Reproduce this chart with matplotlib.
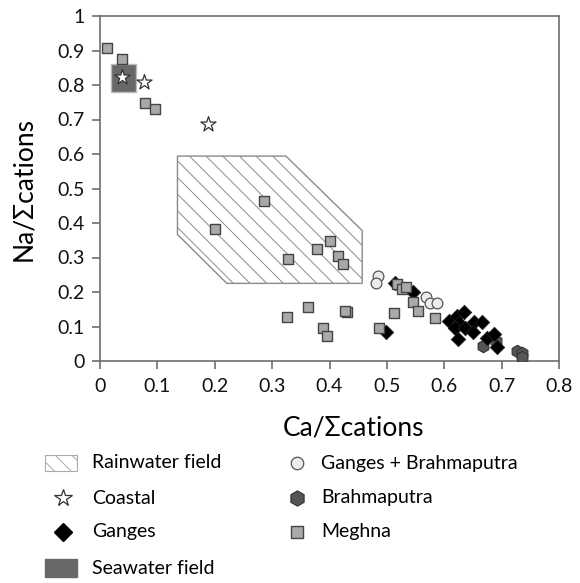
import matplotlib
matplotlib.use("Agg")
import matplotlib.pyplot as plt
from matplotlib.patches import Polygon, Rectangle
from matplotlib.lines import Line2D

plt.rcParams['font.family'] = ['Lato', 'DejaVu Sans']
plt.rcParams['hatch.linewidth'] = 0.7
plt.rcParams['hatch.color'] = '#a0a0a0'

# Ca/Σcations, Na/Σcations per sample group
meghna_ca = [0.013, 0.039, 0.079, 0.096, 0.286, 0.200, 0.328, 0.379, 0.400, 0.414, 0.423,
             0.326, 0.363, 0.430, 0.427, 0.389, 0.395, 0.486, 0.513, 0.517, 0.527, 0.533,
             0.546, 0.555, 0.584]
meghna_na = [0.906, 0.874, 0.747, 0.730, 0.464, 0.382, 0.296, 0.325, 0.349, 0.304, 0.280,
             0.127, 0.156, 0.141, 0.146, 0.095, 0.073, 0.095, 0.140, 0.224, 0.208, 0.214,
             0.172, 0.146, 0.124]

ganges_ca = [0.514, 0.546, 0.498, 0.608, 0.623, 0.634, 0.626, 0.619, 0.637, 0.651, 0.665,
             0.650, 0.624, 0.674, 0.686, 0.692]
ganges_na = [0.226, 0.201, 0.085, 0.116, 0.130, 0.143, 0.109, 0.097, 0.095, 0.114, 0.112,
             0.083, 0.064, 0.068, 0.077, 0.041]

brahma_ca = [0.667, 0.690, 0.726, 0.735, 0.736]
brahma_na = [0.043, 0.058, 0.030, 0.022, 0.013]

gb_ca = [0.485, 0.481, 0.569, 0.576, 0.588]
gb_na = [0.247, 0.225, 0.186, 0.167, 0.167]

coastal_ca = [0.038, 0.077, 0.188]
coastal_na = [0.824, 0.810, 0.687]

# outline of the rainwater field
rain_ca = [0.135, 0.324, 0.457, 0.457, 0.221, 0.135]
rain_na = [0.594, 0.594, 0.378, 0.225, 0.225, 0.367]

# seawater field box: (Ca min, Ca max), (Na min, Na max)
sea_ca = (0.019, 0.062)
sea_na = (0.779, 0.860)

xticks = [0, 0.1, 0.2, 0.3, 0.4, 0.5, 0.6, 0.7, 0.8]
yticks = [0, 0.1, 0.2, 0.3, 0.4, 0.5, 0.6, 0.7, 0.8, 0.9, 1]

fig = plt.figure(figsize=(5.8, 5.83), dpi=100)
ax = fig.add_axes([100/580, 1-361/583, 459/580, 345/583])
ax.set_xlim(0, 0.8)
ax.set_ylim(0, 1)

spine_col = '#6e6e6e'
for s in ax.spines.values():
    s.set_color(spine_col)
    s.set_linewidth(1.2)
ax.tick_params(direction='out', length=6, width=1.2, color=spine_col,
               labelsize=14, labelcolor='#111111')
ax.tick_params(axis='x', pad=6)
ax.tick_params(axis='y', pad=5)
ax.set_xticks(xticks)
ax.set_yticks(yticks)
ax.set_xticklabels([f"{t:g}" for t in xticks])
ax.set_yticklabels([f"{t:g}" for t in yticks])

ax.add_patch(Polygon(list(zip(rain_ca, rain_na)), closed=True, facecolor='white',
                     edgecolor='#8a8a8a', linewidth=1.0, hatch='\\\\', zorder=1))
ax.add_patch(Rectangle((sea_ca[0], sea_na[0]), sea_ca[1]-sea_ca[0], sea_na[1]-sea_na[0],
                       facecolor='#686868', edgecolor='#bbbbbb', linewidth=1.0, zorder=2))

ax.scatter(gb_ca, gb_na, marker='o', s=60, facecolor='#ececec', edgecolor='#555555',
           linewidth=0.9, zorder=3)
ax.scatter(brahma_ca, brahma_na, marker='h', s=80, facecolor='#555555', edgecolor='#333333',
           linewidth=0.8, zorder=4)
ax.scatter(ganges_ca, ganges_na, marker='D', s=55, facecolor='black', edgecolor='#222222',
           linewidth=0.5, zorder=5)
ax.scatter(meghna_ca, meghna_na, marker='s', s=45, facecolor='#a9a9a9', edgecolor='#444444',
           linewidth=1.0, zorder=6)
ax.scatter(coastal_ca, coastal_na, marker='*', s=130, facecolor='white', edgecolor='#333333',
           linewidth=0.9, zorder=7)

fig.text(354/580, 1-428/583, 'Ca/\u03a3cations', ha='center', va='center', fontsize=19)
fig.text(24/580, 1-189/583, 'Na/\u03a3cations', ha='center', va='center', rotation=90,
         fontsize=19)

# key below the plot
lg = fig.add_axes([0, 0, 1, 1], facecolor='none')
lg.set_xlim(0, 580)
lg.set_ylim(583, 0)
lg.axis('off')

rows = [463, 498, 532, 568]
lg.add_patch(Rectangle((45, rows[0]-8), 32, 16, facecolor='white', edgecolor='#aaaaaa',
                       linewidth=0.8, hatch='\\\\'))
lg.add_line(Line2D([63], [rows[1]], marker='*', markersize=13, markerfacecolor='white',
                   markeredgecolor='#333333', markeredgewidth=0.9, linestyle='none'))
lg.add_line(Line2D([63], [rows[2]], marker='D', markersize=9, markerfacecolor='black',
                   markeredgecolor='black', linestyle='none'))
lg.add_patch(Rectangle((45, rows[3]-9), 32, 18, facecolor='#686868', edgecolor='#686868'))
lg.add_line(Line2D([297], [rows[0]], marker='o', markersize=9, markerfacecolor='#ececec',
                   markeredgecolor='#555555', markeredgewidth=0.9, linestyle='none'))
lg.add_line(Line2D([297], [rows[1]], marker='h', markersize=11, markerfacecolor='#555555',
                   markeredgecolor='#333333', markeredgewidth=0.8, linestyle='none'))
lg.add_line(Line2D([297], [rows[2]], marker='s', markersize=8, markerfacecolor='#a9a9a9',
                   markeredgecolor='#444444', markeredgewidth=1.0, linestyle='none'))

left_txt = ['Rainwater field', 'Coastal', 'Ganges', 'Seawater field']
right_txt = ['Ganges + Brahmaputra', 'Brahmaputra', 'Meghna']
for y, t in zip(rows, left_txt):
    lg.text(92, y, t, ha='left', va='center', fontsize=14)
for y, t in zip(rows, right_txt):
    lg.text(321, y, t, ha='left', va='center', fontsize=14)

fig.savefig('out.png', dpi=100)
